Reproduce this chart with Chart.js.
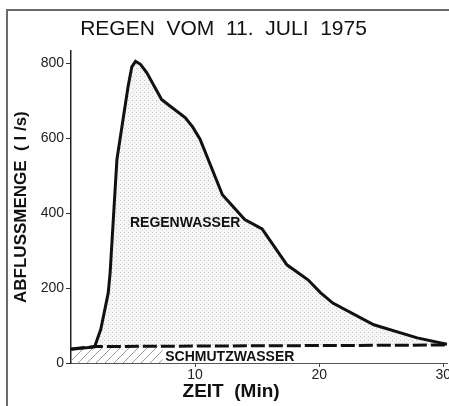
<!DOCTYPE html>
<html>
<head>
<meta charset="utf-8">
<script src="https://cdn.jsdelivr.net/npm/chart.js@4"></script>
<style>
  html, body { margin: 0; padding: 0; background: #fff; }
  #wrap { width: 449px; height: 406px; position: relative; }
</style>
</head>
<body>
<div id="wrap"><canvas id="abfluss"></canvas></div>
<script>
// Zeit in Minuten / Abflussmenge in l/s
const regenTimes = [0, 1.9, 2.4, 3.0, 3.15, 3.7, 4.6, 4.9, 5.2, 5.6, 6.1, 7.3, 8.0, 9.2, 9.8, 10.4, 12.2, 14.0, 15.4, 17.4, 19.1, 20.1, 21.1, 24.4, 27.9, 30.3];
const regenValues = [37, 43, 90, 187, 240, 543, 738, 790, 805, 797, 775, 703, 685, 655, 630, 597, 449, 383, 358, 262, 222, 188, 160, 102, 67, 50];

const schmutzTimes = [0, 1.9, 30.3];
const schmutzValues = [37, 44, 48];

// schraffierter Teil unter der Schmutzwasserlinie
const hatchTimes = [0, 1.9, 7.4];
const hatchValues = [37, 44, 45];

const xTicks = [10, 20, 30];
const yTicks = [0, 200, 400, 600, 800];

const FONT = "'Liberation Sans', Arial, sans-serif";

function toPoints(xs, ys) {
    return xs.map((x, i) => ({ x: x, y: ys[i] }));
}

// Punktraster fuer Regenwasser
function makeStipple() {
    const c = document.createElement('canvas');
    c.width = 4;
    c.height = 4;
    const g = c.getContext('2d');
    g.fillStyle = '#f6f6f6';
    g.fillRect(0, 0, 4, 4);
    g.fillStyle = '#c6c6c6';
    g.fillRect(0, 0, 1, 1);
    g.fillStyle = '#dcdcdc';
    g.fillRect(2, 2, 1, 1);
    return g.createPattern(c, 'repeat');
}

// Schraffur fuer Schmutzwasser
function makeHatch() {
    const c = document.createElement('canvas');
    c.width = 9;
    c.height = 9;
    const g = c.getContext('2d');
    g.strokeStyle = '#9a9a9a';
    g.lineWidth = 1;
    g.beginPath();
    g.moveTo(-1, 10);
    g.lineTo(10, -1);
    g.stroke();
    return g.createPattern(c, 'repeat');
}

const framePlugin = {
    id: 'frame',
    beforeDraw(chart) {
        const ctx = chart.ctx;
        ctx.save();
        ctx.fillStyle = '#fff';
        ctx.fillRect(0, 0, chart.width, chart.height);
        ctx.strokeStyle = '#6a6a6a';
        ctx.lineWidth = 2;
        ctx.beginPath();
        ctx.moveTo(7, chart.height);
        ctx.lineTo(7, 10);
        ctx.lineTo(chart.width, 10);
        ctx.stroke();
        ctx.restore();
    }
};

const labelPlugin = {
    id: 'areaLabels',
    afterDatasetsDraw(chart) {
        const ctx = chart.ctx;
        const x = chart.scales.x;
        const y = chart.scales.y;
        ctx.save();
        ctx.fillStyle = '#111';
        ctx.textAlign = 'center';
        ctx.textBaseline = 'middle';
        ctx.font = 'bold 14px ' + FONT;
        ctx.fillText('REGENWASSER', x.getPixelForValue(9.2), y.getPixelForValue(372));
        ctx.fillText('SCHMUTZWASSER', x.getPixelForValue(12.8), y.getPixelForValue(16));
        ctx.font = 'bold 19px ' + FONT;
        ctx.fillText('ZEIT  (Min)', x.getPixelForValue(12.9), chart.chartArea.bottom + 29);
        ctx.restore();
    }
};

const ctx = document.getElementById('abfluss').getContext('2d');

new Chart(ctx, {
    type: 'line',
    data: {
        datasets: [{
            label: 'Regenwasser',
            data: toPoints(regenTimes, regenValues),
            borderColor: '#111',
            borderWidth: 3,
            pointRadius: 0,
            tension: 0,
            fill: 1,
            backgroundColor: makeStipple()
        }, {
            label: 'Schmutzwasser',
            data: toPoints(schmutzTimes, schmutzValues),
            borderColor: '#111',
            borderWidth: 3,
            borderDash: [14, 4],
            pointRadius: 0,
            fill: false
        }, {
            label: 'Schraffur',
            data: toPoints(hatchTimes, hatchValues),
            borderWidth: 0,
            borderColor: 'rgba(0,0,0,0)',
            pointRadius: 0,
            fill: 'origin',
            backgroundColor: makeHatch()
        }]
    },
    options: {
        responsive: true,
        maintainAspectRatio: false,
        animation: false,
        devicePixelRatio: 1,
        layout: {
            padding: { top: 0, right: 2, bottom: 0, left: 0 }
        },
        plugins: {
            legend: { display: false },
            tooltip: { enabled: false },
            filler: { drawTime: 'beforeDatasetsDraw' },
            title: {
                display: true,
                text: 'REGEN  VOM  11.  JULI  1975',
                color: '#111',
                font: { family: FONT, size: 21, weight: 'normal' },
                padding: { top: 17, bottom: 9 }
            }
        },
        scales: {
            x: {
                type: 'linear',
                min: 0,
                max: 30.3,
                afterBuildTicks: (scale) => {
                    scale.ticks = xTicks.map(v => ({ value: v }));
                },
                afterFit: (scale) => {
                    scale.height = 43;
                    scale.paddingLeft = 0;
                    scale.paddingRight = 0;
                },
                grid: {
                    drawOnChartArea: false,
                    drawTicks: true,
                    tickLength: 4,
                    color: '#444'
                },
                border: { display: true, color: '#555', width: 1 },
                ticks: {
                    color: '#222',
                    padding: 0,
                    maxRotation: 0,
                    font: { family: FONT, size: 14 }
                }
            },
            y: {
                min: 0,
                max: 832,
                afterBuildTicks: (scale) => {
                    scale.ticks = yTicks.map(v => ({ value: v }));
                },
                afterFit: (scale) => {
                    scale.width = 71;
                    scale.paddingTop = 0;
                    scale.paddingBottom = 0;
                },
                grid: {
                    drawOnChartArea: false,
                    drawTicks: true,
                    tickLength: 5,
                    color: '#333'
                },
                border: { display: true, color: '#222', width: 1.5 },
                ticks: {
                    color: '#222',
                    padding: 2,
                    font: { family: FONT, size: 14 }
                },
                title: {
                    display: true,
                    text: 'ABFLUSSMENGE  ( l /s)',
                    color: '#111',
                    font: { family: FONT, size: 17, weight: 'bold' },
                    padding: { top: 11, bottom: 0 }
                }
            }
        }
    },
    plugins: [framePlugin, labelPlugin]
});
</script>
</body>
</html>
